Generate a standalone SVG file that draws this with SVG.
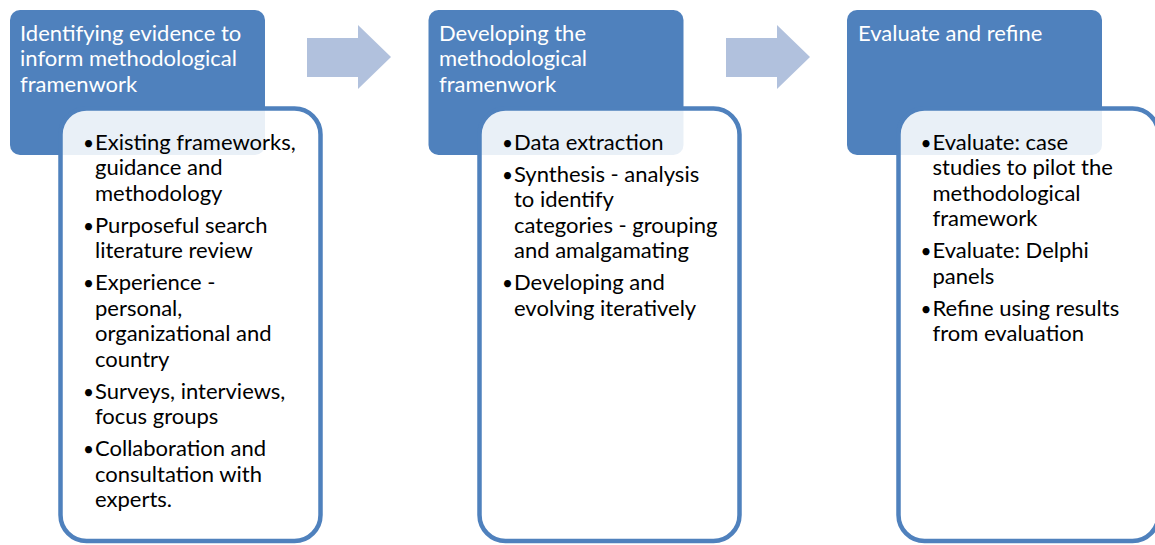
<svg xmlns="http://www.w3.org/2000/svg" width="1155" height="545" viewBox="0 0 1155 545">
<style>
.hdr{fill:#4F81BD;}
.card{fill:#FFFFFF;fill-opacity:0.88;stroke:#4F81BD;stroke-width:4.5;}
.arr{fill:#B1C1DD;}
.ht{font-family:Lato,"Liberation Sans",sans-serif;font-size:22px;fill:#FFFFFF;}
.bt{font-family:Lato,"Liberation Sans",sans-serif;font-size:22px;fill:#000000;}
.bu{text-anchor:middle;font-size:19px;}
</style>
<rect width="1155" height="545" fill="#FFFFFF"/>
<g id="connectors">
<polygon class="arr" points="307,38 358,38 358,25 391,57 358,89 358,77 307,77"/>
<polygon class="arr" points="726,38 777,38 777,25 810,57 777,89 777,77 726,77"/>
</g>
<g id="node1">
<rect class="hdr" x="10" y="10" width="255" height="145" rx="10"/>
<text class="ht" x="20" y="40.5">Identifying evidence to</text>
<text class="ht" x="20" y="66">inform methodological</text>
<text class="ht" x="20" y="91.5">framenwork</text>
<rect class="card" x="60.5" y="108.5" width="260" height="432.5" rx="26"/>
<g class="bt">
<text class="bu" x="88.5" y="149.5">•</text><text x="95" y="149.5">Existing frameworks,</text>
<text x="95" y="175">guidance and</text>
<text x="95" y="200.5">methodology</text>
<text class="bu" x="88.5" y="232.5">•</text><text x="95" y="232.5">Purposeful search</text>
<text x="95" y="258">literature review</text>
<text class="bu" x="88.5" y="290">•</text><text x="95" y="290">Experience -</text>
<text x="95" y="315.5">personal,</text>
<text x="95" y="341">organizational and</text>
<text x="95" y="366.5">country</text>
<text class="bu" x="88.5" y="398.5">•</text><text x="95" y="398.5">Surveys, interviews,</text>
<text x="95" y="424">focus groups</text>
<text class="bu" x="88.5" y="456">•</text><text x="95" y="456">Collaboration and</text>
<text x="95" y="481.5">consultation with</text>
<text x="95" y="507">experts.</text>
</g>
</g>
<g id="node2">
<rect class="hdr" x="428.5" y="10" width="255" height="145" rx="10"/>
<text class="ht" x="439" y="40.5">Developing the</text>
<text class="ht" x="439" y="66">methodological</text>
<text class="ht" x="439" y="91.5">framenwork</text>
<rect class="card" x="479.5" y="108.5" width="260" height="432.5" rx="26"/>
<g class="bt">
<text class="bu" x="507.5" y="149.5">•</text><text x="514" y="149.5">Data extraction</text>
<text class="bu" x="507.5" y="181.5">•</text><text x="514" y="181.5">Synthesis - analysis</text>
<text x="514" y="207">to identify</text>
<text x="514" y="232.5">categories - grouping</text>
<text x="514" y="258">and amalgamating</text>
<text class="bu" x="507.5" y="290">•</text><text x="514" y="290">Developing and</text>
<text x="514" y="315.5">evolving iteratively</text>
</g>
</g>
<g id="node3">
<rect class="hdr" x="847" y="10" width="255" height="145" rx="10"/>
<text class="ht" x="858" y="40.5">Evaluate and refine</text>
<rect class="card" x="898.5" y="108.5" width="260" height="432.5" rx="26"/>
<g class="bt">
<text class="bu" x="926" y="149.5">•</text><text x="932.5" y="149.5">Evaluate: case</text>
<text x="932.5" y="175">studies to pilot the</text>
<text x="932.5" y="200.5">methodological</text>
<text x="932.5" y="226">framework</text>
<text class="bu" x="926" y="258">•</text><text x="932.5" y="258">Evaluate: Delphi</text>
<text x="932.5" y="283.5">panels</text>
<text class="bu" x="926" y="315.5">•</text><text x="932.5" y="315.5">Refine using results</text>
<text x="932.5" y="341">from evaluation</text>
</g>
</g>
</svg>
